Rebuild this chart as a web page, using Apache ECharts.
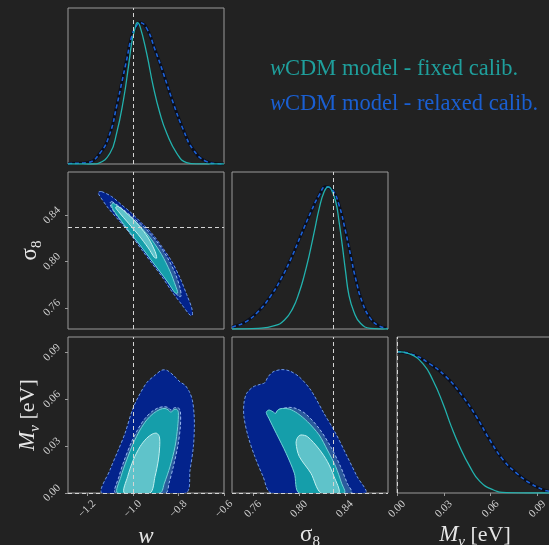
<!DOCTYPE html>
<html><head><meta charset="utf-8">
<script src="https://cdn.jsdelivr.net/npm/echarts@6/dist/echarts.min.js"></script>
<style>html,body{margin:0;padding:0;background:#222222;}#c{width:549px;height:545px;}</style>
</head><body><div id="c"></div>
<script>
// ---------- axis ranges, ticks, truth values ----------
const wRange = [-1.284, -0.6];
const s8Range = [0.7416, 0.8777];
const mnuRange = [0, 0.1];
const pdfRange = [0, 1.104];
const wTicks = [-1.2, -1.0, -0.8, -0.6];
const s8Ticks = [0.76, 0.80, 0.84];
const mnuTicks = [0.00, 0.03, 0.06, 0.09];
const truthW = -1.0;
const truthS8 = 0.83;
const truthMnu = 0.0;

// ---------- 1D marginals (normalised to peak) ----------
const wFixedPdf = [[-1.284,0],[-1.17,0],[-1.151,0.005],[-1.10,0.076],[-1.071,0.217],[-1.041,0.453],[-1.019,0.689],[-1.005,0.854],[-0.99,0.96],[-0.98,1.0],[-0.968,0.972],[-0.939,0.783],[-0.910,0.547],[-0.881,0.359],[-0.851,0.217],[-0.807,0.076],[-0.764,0.010],[-0.72,0.001],[-0.6,0]];
const wRelaxedPdf = [[-1.284,0.001],[-1.275,0.003],[-1.202,0.009],[-1.144,0.076],[-1.100,0.217],[-1.071,0.406],[-1.049,0.571],[-1.027,0.736],[-1.005,0.901],[-0.985,0.975],[-0.968,1.0],[-0.939,0.960],[-0.902,0.807],[-0.866,0.642],[-0.822,0.429],[-0.778,0.241],[-0.734,0.099],[-0.676,0.017],[-0.632,0.002],[-0.6,0]];
const s8FixedPdf = [[0.7416,0],[0.7644,0.005],[0.7788,0.023],[0.7874,0.063],[0.7946,0.145],[0.8004,0.262],[0.8047,0.379],[0.8090,0.520],[0.8134,0.684],[0.8177,0.848],[0.8220,0.965],[0.8255,1.0],[0.8278,0.988],[0.8321,0.895],[0.8350,0.754],[0.8378,0.590],[0.8407,0.403],[0.8436,0.239],[0.8479,0.122],[0.8537,0.040],[0.8623,0.005],[0.8777,0]];
const s8RelaxedPdf = [[0.7416,0.012],[0.7428,0.016],[0.7529,0.047],[0.7644,0.122],[0.7759,0.239],[0.7846,0.356],[0.7932,0.497],[0.8018,0.661],[0.8105,0.824],[0.8177,0.942],[0.8234,1.0],[0.8292,0.977],[0.8350,0.871],[0.8407,0.684],[0.8450,0.520],[0.8494,0.356],[0.8551,0.192],[0.8623,0.075],[0.8695,0.023],[0.8767,0.005]];
const mnuFixedPdf = [[0,1.0],[0.0081,0.984],[0.0167,0.914],[0.0231,0.796],[0.0295,0.632],[0.0349,0.468],[0.0402,0.328],[0.0467,0.187],[0.0531,0.082],[0.0616,0.023],[0.0702,0.002],[0.0852,0],[0.1,0]];
const mnuRelaxedPdf = [[0,1.0],[0.0103,0.979],[0.0210,0.914],[0.0317,0.820],[0.0424,0.679],[0.0510,0.538],[0.0595,0.375],[0.0681,0.234],[0.0766,0.141],[0.0852,0.070],[0.0937,0.023],[0.0974,0.012],[0.1,0.005]];

// ---------- 2D contours (68% / 95%) ----------
const wS8Relaxed95 = [[-1.1364,0.8607],[-1.0925,0.8564],[-1.0486,0.8492],[-1.0048,0.8420],[-0.9609,0.8334],[-0.9171,0.8247],[-0.8732,0.8132],[-0.8293,0.8003],[-0.7928,0.7859],[-0.7636,0.7715],[-0.7416,0.7599],[-0.7387,0.7536],[-0.7489,0.7536],[-0.7855,0.7628],[-0.8293,0.7743],[-0.8732,0.7873],[-0.9171,0.7988],[-0.9609,0.8103],[-0.9975,0.8204],[-1.0194,0.8262],[-1.0633,0.8363],[-1.1071,0.8463],[-1.1481,0.8579],[-1.1510,0.8602]];
const wS8Relaxed68 = [[-1.0925,0.8521],[-1.0486,0.8463],[-1.0048,0.8391],[-0.9463,0.8291],[-0.8951,0.8175],[-0.8513,0.8046],[-0.8147,0.7902],[-0.7928,0.7772],[-0.7884,0.7700],[-0.8001,0.7700],[-0.8366,0.7801],[-0.8805,0.7916],[-0.9244,0.8031],[-0.9682,0.8147],[-1.0121,0.8247],[-1.0560,0.8363],[-1.0925,0.8463],[-1.0998,0.8507]];
const wS8Fixed95 = [[-1.0852,0.8507],[-1.0486,0.8449],[-1.0048,0.8377],[-0.9609,0.8291],[-0.9171,0.8190],[-0.8732,0.8060],[-0.8366,0.7916],[-0.8118,0.7787],[-0.8030,0.7729],[-0.8147,0.7729],[-0.8440,0.7815],[-0.8878,0.7931],[-0.9317,0.8046],[-0.9755,0.8161],[-1.0048,0.8233],[-1.0486,0.8348],[-1.0852,0.8449],[-1.0925,0.8492]];
const wS8Fixed68 = [[-1.0633,0.8478],[-1.0194,0.8406],[-0.9755,0.8319],[-0.9317,0.8204],[-0.9024,0.8089],[-0.8951,0.8031],[-0.9054,0.8037],[-0.9317,0.8118],[-0.9755,0.8233],[-1.0194,0.8334],[-1.0633,0.8435],[-1.0750,0.8469]];

const wMnuRelaxed95 = [[-1.1334,0],[-1.0998,0.0148],[-1.0633,0.0276],[-1.0340,0.0383],[-1.0019,0.0532],[-0.9755,0.0617],[-0.9390,0.0707],[-0.9024,0.0755],[-0.8732,0.0787],[-0.8513,0.0787],[-0.8220,0.0755],[-0.7928,0.0712],[-0.7709,0.0691],[-0.7518,0.0649],[-0.7387,0.0595],[-0.7314,0.0510],[-0.7299,0.0425],[-0.7343,0.0297],[-0.7489,0.0148],[-0.7679,0]];
const wMnuRelaxed68 = [[-1.0750,0],[-1.0603,0.0106],[-1.0369,0.0212],[-1.0048,0.0329],[-0.9755,0.0414],[-0.9463,0.0478],[-0.9171,0.0521],[-0.8878,0.0546],[-0.8659,0.0553],[-0.8469,0.0549],[-0.8323,0.0532],[-0.8176,0.0546],[-0.8001,0.0546],[-0.7913,0.0521],[-0.7913,0.0425],[-0.8030,0.0297],[-0.8220,0.0170],[-0.8410,0.0063],[-0.8556,0]];
const wMnuFixed95 = [[-1.0662,0],[-1.0516,0.0106],[-1.0267,0.0212],[-0.9975,0.0319],[-0.9682,0.0404],[-0.9390,0.0468],[-0.9098,0.0510],[-0.8805,0.0536],[-0.8586,0.0542],[-0.8440,0.0532],[-0.8323,0.0517],[-0.8220,0.0532],[-0.8074,0.0536],[-0.8001,0.0517],[-0.8030,0.0425],[-0.8147,0.0297],[-0.8366,0.0170],[-0.8615,0.0063],[-0.8805,0]];
const wMnuFixed68 = [[-1.0369,0],[-1.0223,0.0106],[-0.9975,0.0212],[-0.9682,0.0297],[-0.9390,0.0351],[-0.9141,0.0378],[-0.8951,0.0383],[-0.8834,0.0361],[-0.8820,0.0297],[-0.8878,0.0212],[-0.9024,0.0106],[-0.9244,0]];

const s8MnuRelaxed95 = [[0.7759,0],[0.7687,0.0106],[0.7615,0.0234],[0.7557,0.0361],[0.7520,0.0489],[0.7520,0.0574],[0.7543,0.0638],[0.7600,0.0680],[0.7664,0.0697],[0.7701,0.0706],[0.7730,0.0744],[0.7773,0.0776],[0.7845,0.0791],[0.7917,0.0783],[0.8003,0.0744],[0.8104,0.0659],[0.8219,0.0510],[0.8320,0.0383],[0.8421,0.0234],[0.8507,0.0106],[0.8579,0]];
const s8MnuRelaxed68 = [[0.8032,0],[0.7960,0.0148],[0.7888,0.0297],[0.7825,0.0425],[0.7796,0.0500],[0.7816,0.0532],[0.7859,0.0542],[0.7917,0.0549],[0.7975,0.0542],[0.8061,0.0506],[0.8176,0.0414],[0.8277,0.0297],[0.8363,0.0170],[0.8421,0.0063],[0.8458,0]];
const s8MnuFixed95 = [[0.8003,0],[0.7960,0.0127],[0.7888,0.0255],[0.7802,0.0383],[0.7738,0.0478],[0.7715,0.0517],[0.7738,0.0532],[0.7773,0.0521],[0.7796,0.0510],[0.7816,0.0532],[0.7854,0.0542],[0.7917,0.0538],[0.7989,0.0510],[0.8075,0.0457],[0.8176,0.0372],[0.8248,0.0276],[0.8320,0.0170],[0.8372,0.0063],[0.8395,0]];
const s8MnuFixed68 = [[0.8191,0],[0.8104,0.0127],[0.8003,0.0234],[0.7975,0.0319],[0.7989,0.0357],[0.8018,0.0372],[0.8075,0.0361],[0.8176,0.0281],[0.8248,0.0202],[0.8306,0.0106],[0.8349,0]];

// ---------- styling ----------
const SERIF = "Liberation Serif";
const BORDER = '#9a9a9a';
const LABEL = '#cfcfcf';
const NAME = '#e6e6e6';
const FIXED = '#22b2ae';
const RELAXED = '#1d62d8';
const C = {r95:'#03238c', r68:'#2b5a9c', f95:'#159eaa', f68:'#5fc3ca', r95line:'#6f9ae6', r68line:'#9ab8f0', f95line:'#72d2d6', f68line:'#c4f0f0'};

function fmtW(v){ return v.toFixed(1).replace('-', '\u2212'); }
function fmt2(v){ return v.toFixed(2); }

function axis(gridIndex, range, ticks, formatter, extra) {
  return Object.assign({
    type:'value', gridIndex, min:range[0], max:range[1],
    axisLine:{show:false}, splitLine:{show:false},
    axisTick: ticks ? {show:true, inside:false, length:3, customValues:ticks, lineStyle:{color:BORDER}} : {show:false},
    axisLabel: ticks ? {show:true, customValues:ticks, formatter, rotate:45, align:'center', verticalAlign:'middle',
      margin:16, color:LABEL, fontFamily:SERIF, fontSize:11} : {show:false}
  }, extra || {});
}
const nameRich = {
  i:{fontStyle:'italic', fontFamily:SERIF, fontSize:23, color:NAME, lineHeight:30, verticalAlign:'middle'},
  g:{fontFamily:SERIF, fontSize:23, color:NAME, lineHeight:30, verticalAlign:'middle'},
  r:{fontFamily:SERIF, fontSize:22, color:NAME, lineHeight:30, verticalAlign:'middle'},
  sub:{fontFamily:SERIF, fontSize:15, color:NAME, lineHeight:14, verticalAlign:'bottom'},
  subi:{fontFamily:SERIF, fontStyle:'italic', fontSize:15, color:NAME, lineHeight:14, verticalAlign:'bottom'}
};
function named(name, gap, noMove) {
  const o = {name, nameLocation:'middle', nameGap:gap, nameTextStyle:{color:NAME, fontFamily:SERIF, fontSize:22, rich:nameRich}};
  if (noMove) o.nameMoveOverlap = false;
  return o;
}
const nameW = '{i|w}';
const nameS8 = '{g|σ}{sub|8}';
const nameMnu = '{i|M}{subi|ν}{r| [eV]}';

function polygon(points, gi, fill, stroke, dashed) {
  return {
    type:'custom', coordinateSystem:'cartesian2d', xAxisIndex:gi, yAxisIndex:gi,
    data:points, silent:true, encode:{x:0, y:1},
    renderItem:(params, api) => {
      if (params.dataIndex !== 0) return;
      const cs = params.coordSys;
      return {
        type:'polygon',
        shape:{points:points.map(p => api.coord(p)), smooth:0.3},
        clipPath:{type:'rect', shape:{x:cs.x, y:cs.y, width:cs.width, height:cs.height}},
        style:{fill, stroke, lineWidth:1, lineDash: dashed ? [3,2] : null}
      };
    }
  };
}
function contours(gi, r95, r68, f95, f68) {
  return [
    polygon(r95, gi, C.r95, C.r95line, true),
    polygon(r68, gi, C.r68, C.r68line, true),
    polygon(f95, gi, C.f95, C.f95line, false),
    polygon(f68, gi, C.f68, C.f68line, false)
  ];
}
function pdfs(gi, relaxed, fixed) {
  const base = {type:'line', xAxisIndex:gi, yAxisIndex:gi, symbol:'none', smooth:0.5, silent:true};
  return [
    Object.assign({}, base, {data:relaxed, lineStyle:{color:'#0a0e1c', width:3}, z:2}),
    Object.assign({}, base, {data:relaxed, lineStyle:{color:RELAXED, width:1.6, type:[4,3]}, z:3}),
    Object.assign({}, base, {data:fixed, lineStyle:{color:FIXED, width:1.3}, z:4})
  ];
}
function truth(gi, lines) {
  return {type:'line', xAxisIndex:gi, yAxisIndex:gi, data:[], silent:true, z:8,
    markLine:{silent:true, symbol:['none','none'], label:{show:false}, animation:false,
      lineStyle:{color:'#d4d4d4', width:1, type:[4,3]}, data:lines}};
}

const grids = [
  {left:68, top:8, width:156, height:156},
  {left:68, top:172, width:156, height:157},
  {left:68, top:337, width:156, height:156},
  {left:232, top:172, width:156, height:157},
  {left:232, top:337, width:156, height:156},
  {left:397, top:337, width:156, height:156}
].map(g => Object.assign(g, {show:true, borderColor:BORDER, borderWidth:1, backgroundColor:'transparent', containLabel:false, outerBoundsMode:'none'}));

const legendRich = (col) => ({
  it:{fontStyle:'italic', fontFamily:SERIF, fontSize:22.5, fill:col},
  rm:{fontFamily:SERIF, fontSize:22.5, fill:col}
});

const option = {
  backgroundColor:'#222222',
  animation:false,
  grid:grids,
  xAxis:[
    axis(0, wRange),
    axis(1, wRange),
    axis(2, wRange, wTicks, fmtW, named(nameW, 29)),
    axis(3, s8Range),
    axis(4, s8Range, s8Ticks, fmt2, named(nameS8, 27)),
    axis(5, mnuRange, mnuTicks, fmt2, named(nameMnu, 27))
  ],
  yAxis:[
    axis(0, pdfRange),
    axis(1, s8Range, s8Ticks, fmt2, named(nameS8, 23, true)),
    axis(2, mnuRange, mnuTicks, fmt2, named(nameMnu, 25, true)),
    axis(3, pdfRange),
    axis(4, mnuRange),
    axis(5, pdfRange)
  ],
  series:[].concat(
    pdfs(0, wRelaxedPdf, wFixedPdf),
    [truth(0, [{xAxis:truthW}])],
    contours(1, wS8Relaxed95, wS8Relaxed68, wS8Fixed95, wS8Fixed68),
    [truth(1, [{xAxis:truthW}, {yAxis:truthS8}])],
    contours(2, wMnuRelaxed95, wMnuRelaxed68, wMnuFixed95, wMnuFixed68),
    [truth(2, [{xAxis:truthW}, {yAxis:truthMnu}])],
    pdfs(3, s8RelaxedPdf, s8FixedPdf),
    [truth(3, [{xAxis:truthS8}])],
    contours(4, s8MnuRelaxed95, s8MnuRelaxed68, s8MnuFixed95, s8MnuFixed68),
    [truth(4, [{xAxis:truthS8}, {yAxis:truthMnu}])],
    pdfs(5, mnuRelaxedPdf, mnuFixedPdf),
    [truth(5, [{xAxis:truthMnu}])]
  ),
  graphic:[
    {type:'text', x:270, y:69, silent:true, style:{text:'{it|w}{rm|CDM model - fixed calib.}', fontFamily:SERIF, fontSize:22.5, fill:'#1f9f9c', verticalAlign:'middle', align:'left', rich:legendRich('#1f9f9c')}},
    {type:'text', x:270, y:104, silent:true, style:{text:'{it|w}{rm|CDM model - relaxed calib.}', fontFamily:SERIF, fontSize:22.5, fill:'#1a5fd2', verticalAlign:'middle', align:'left', rich:legendRich('#1a5fd2')}}
  ]
};
const chart = echarts.init(document.getElementById('c'), null, {renderer:'canvas'});
chart.setOption(option);
</script></body></html>
